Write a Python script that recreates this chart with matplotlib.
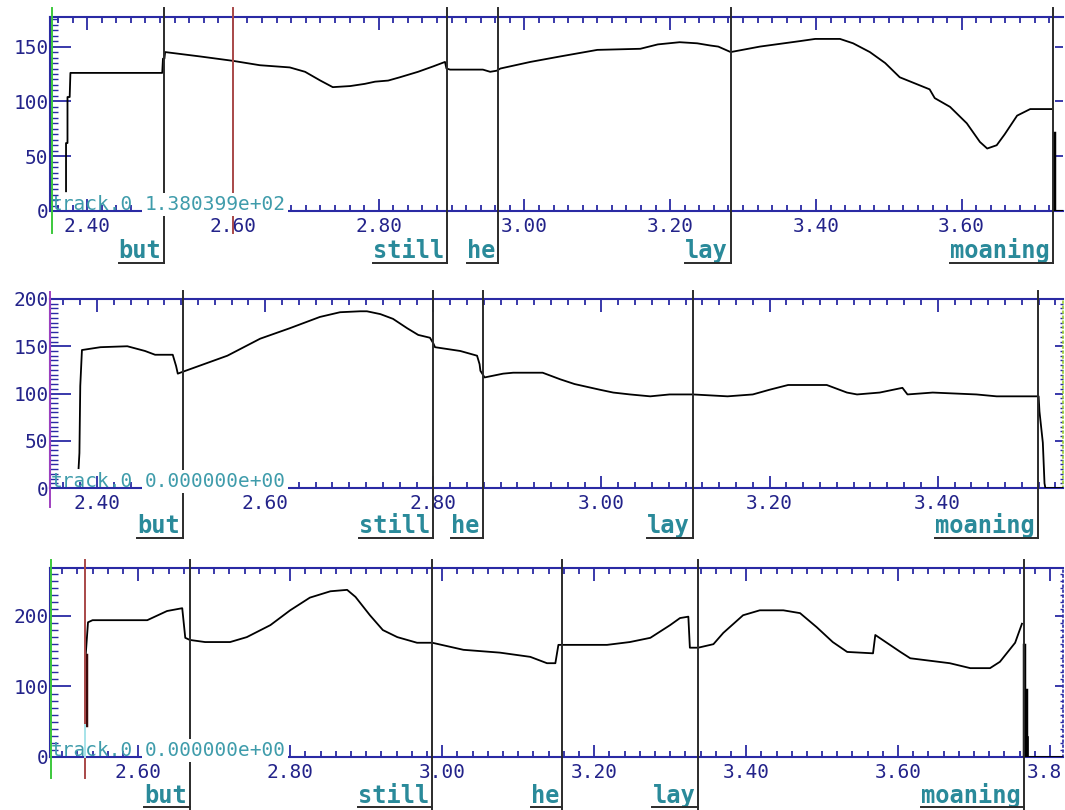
import matplotlib
matplotlib.use("Agg")
import matplotlib.pyplot as plt
import matplotlib.transforms as mtransforms
from matplotlib.lines import Line2D
from matplotlib.ticker import MultipleLocator, FuncFormatter, FormatStrFormatter

# ---- data ----
words = ["but", "still", "he", "lay", "moaning"]

# panel 1
p1_time = [2.371, 2.371, 2.373, 2.373, 2.376, 2.377, 2.503, 2.504, 2.506,
           2.507, 2.555, 2.600, 2.637, 2.678, 2.699, 2.720, 2.737, 2.761,
           2.781, 2.795, 2.813, 2.829, 2.854, 2.875, 2.891, 2.893, 2.898,
           2.943, 2.953, 2.962, 2.967, 3.008, 3.049, 3.100, 3.159, 3.183,
           3.213, 3.237, 3.255, 3.266, 3.283, 3.323, 3.378, 3.399, 3.433,
           3.451, 3.474, 3.495, 3.515, 3.556, 3.563, 3.584, 3.607, 3.625,
           3.635, 3.648, 3.659, 3.676, 3.694, 3.724]
p1_f0 = [18, 62, 62, 104, 104, 126, 126, 139, 139,
         145, 141, 137, 133, 131, 127, 119, 113, 114,
         116, 118, 119, 122, 127, 132, 136, 130, 129,
         129, 127, 128, 130, 136, 141, 147, 148, 152,
         154, 153, 151, 150, 145, 150, 155, 157, 157,
         153, 145, 135, 122, 111, 103, 95, 80, 63,
         57, 60, 70, 87, 93, 93]
p1_bounds = [2.506, 2.894, 2.964, 3.283, 3.725]
p1_spike_t = [3.726, 3.728]
p1_spike_v = [71, 23]
p1_cursor = 2.600
p1_start = 2.352
p1_readout = "1.380399e+02"

# panel 2
p2_time = [2.378, 2.379, 2.380, 2.382, 2.404, 2.436, 2.457, 2.469, 2.490,
           2.494, 2.496, 2.502, 2.555, 2.594, 2.629, 2.665, 2.689, 2.713,
           2.721, 2.737, 2.752, 2.769, 2.782, 2.796, 2.800, 2.802, 2.817,
           2.832, 2.852, 2.855, 2.856, 2.861, 2.883, 2.895, 2.930, 2.951,
           2.968, 2.998, 3.014, 3.034, 3.058, 3.081, 3.109, 3.150, 3.180,
           3.200, 3.222, 3.268, 3.292, 3.304, 3.331, 3.358, 3.364, 3.394,
           3.446, 3.470, 3.515, 3.520, 3.521, 3.525, 3.527, 3.528, 3.549]
p2_f0 = [21, 37, 108, 146, 149, 150, 145, 141, 141,
         129, 121, 123, 140, 158, 169, 181, 186, 187,
         187, 184, 179, 169, 162, 159, 153, 149, 147,
         145, 140, 131, 124, 117, 121, 122, 122, 115,
         110, 104, 101, 99, 97, 99, 99, 97, 99,
         104, 109, 109, 101, 99, 101, 106, 99, 101,
         99, 97, 97, 97, 81, 48, 5, 0, 0]
p2_bounds = [2.502, 2.800, 2.859, 3.109, 3.519]
p2_start = 2.3445
p2_readout = "0.000000e+00"

# panel 3
p3_time = [2.531, 2.531, 2.534, 2.540, 2.612, 2.622, 2.638, 2.658, 2.662,
           2.668, 2.688, 2.721, 2.743, 2.774, 2.800, 2.826, 2.853, 2.875,
           2.886, 2.905, 2.922, 2.941, 2.967, 2.987, 3.028, 3.076, 3.116,
           3.138, 3.149, 3.153, 3.217, 3.247, 3.274, 3.300, 3.313, 3.324,
           3.326, 3.337, 3.357, 3.370, 3.396, 3.418, 3.449, 3.471, 3.493,
           3.514, 3.533, 3.567, 3.570, 3.603, 3.616, 3.668, 3.695, 3.721,
           3.734, 3.754, 3.763]
p3_f0 = [45, 145, 191, 194, 194, 199, 207, 211, 169,
         166, 163, 163, 170, 187, 208, 226, 235, 237,
         227, 201, 180, 170, 162, 162, 152, 148, 142,
         133, 133, 159, 159, 163, 169, 187, 197, 199,
         155, 155, 160, 176, 201, 208, 208, 204, 184,
         163, 149, 147, 173, 149, 140, 133, 126, 126,
         135, 162, 189]
p3_bounds = [2.668, 2.987, 3.158, 3.337, 3.766]
p3_spike_t = [3.766, 3.768, 3.771]
p3_spike_v = [159, 95, 28]
p3_cursor = 2.530
p3_start = 2.4855
p3_readout = "0.000000e+00"
p3_cut_label = "3.8"

# ---- look ----
W, H = 1065, 810
AXIS = "#2a2aa4"
TICKTXT = "#23238a"
TEAL = "#2a8a9a"
TRACK = "#3f9cab"
MONO = "DejaVu Sans Mono"
TICKFS = 14
CHAR_PT = 0.602 * TICKFS

plt.rcParams["font.family"] = [MONO, "DejaVu Sans"]

fig = plt.figure(figsize=(W / 100, H / 100), dpi=100)


def fy(px):
    return 1 - px / H


def make_panel(top, bottom, xlim, ylim, ymaj, ymin, right_style, hide_x=None):
    ax = fig.add_axes([50 / W, fy(bottom), (1063 - 50) / W, (bottom - top) / H])
    ax.set_xlim(*xlim)
    ax.set_ylim(*ylim)
    ax.xaxis.set_major_locator(MultipleLocator(0.2))
    ax.xaxis.set_minor_locator(MultipleLocator(0.02))
    if hide_x is None:
        ax.xaxis.set_major_formatter(FormatStrFormatter("%.2f"))
    else:
        ax.xaxis.set_major_formatter(
            FuncFormatter(lambda v, p: "" if abs(v - hide_x) < 1e-6 else f"{v:.2f}"))
    ax.yaxis.set_major_locator(MultipleLocator(ymaj))
    ax.yaxis.set_minor_locator(MultipleLocator(ymin))
    ax.yaxis.set_major_formatter(FormatStrFormatter("%d"))
    ax.tick_params(axis="x", which="both", top=True, bottom=True, direction="in",
                   color=AXIS, labelcolor=TICKTXT, labelsize=TICKFS, pad=4)
    ax.tick_params(axis="x", which="major", length=9, width=1.3)
    ax.tick_params(axis="x", which="minor", length=4, width=1.3)
    ax.tick_params(axis="y", which="both", left=True, right=False, direction="in",
                   color=AXIS, labelcolor=TICKTXT, labelsize=TICKFS, pad=1)
    ax.tick_params(axis="y", which="major", length=15, width=1.3)
    ax.tick_params(axis="y", which="minor", length=6, width=1.0)
    for side in ["top", "bottom", "left"]:
        ax.spines[side].set_color(AXIS)
        ax.spines[side].set_linewidth(1.5)
    ax.spines["right"].set_visible(False)

    # short ticks along the right edge
    sec = ax.secondary_yaxis("right")
    sec.yaxis.set_major_locator(MultipleLocator(ymaj))
    sec.yaxis.set_minor_locator(MultipleLocator(ymin))
    sec.tick_params(which="major", direction="in", length=6, width=1.3,
                    color=AXIS, labelright=False)
    sec.tick_params(which="minor", direction="in", length=2 if right_style else 0,
                    width=1.0, color=AXIS)
    if right_style is None:
        sec.spines["right"].set_visible(False)
    else:
        sec.spines["right"].set_color(right_style)
        sec.spines["right"].set_linestyle((0, (1, 2)))
        sec.spines["right"].set_linewidth(1.2)
    return ax


def draw_marks(ax, bounds, span, baseline, underline):
    blend = mtransforms.blended_transform_factory(ax.transData, fig.transFigure)
    texts = []
    for t, w in zip(bounds, words):
        ax.add_line(Line2D([t, t], [fy(span[0]), fy(span[1])], transform=blend,
                           color="#2b2b2b", lw=1.4, clip_on=False, zorder=5))
        tr = mtransforms.offset_copy(blend, fig=fig, x=-3, y=0, units="dots")
        txt = ax.text(t, fy(baseline), w, transform=tr, ha="right", va="baseline",
                      color=TEAL, fontsize=17, fontweight="bold", clip_on=False)
        texts.append((t, txt, blend))
    return texts, underline


def readout(ax, value):
    tr0 = mtransforms.offset_copy(ax.transAxes, fig=fig, x=1, y=1, units="dots")
    ax.text(0.0, 0.0, "track.0", transform=tr0, color=TRACK,
            fontsize=TICKFS, ha="left", va="baseline", zorder=6)
    tr = mtransforms.offset_copy(ax.transAxes, fig=fig, x=8 * CHAR_PT + 0.7, y=0.7,
                                 units="points")
    ax.text(0.0, 0.0, value, transform=tr, color=TRACK, fontsize=TICKFS,
            ha="left", va="baseline", zorder=6,
            bbox=dict(facecolor="white", edgecolor="none", pad=1.5))


def vline(ax, t, top, bottom, color, lw=1.4):
    blend = mtransforms.blended_transform_factory(ax.transData, fig.transFigure)
    ax.add_line(Line2D([t, t], [fy(top), fy(bottom)], transform=blend,
                       color=color, lw=lw, clip_on=False, zorder=4))


# panel 1
ax1 = make_panel(17, 211, (2.349, 3.739), (0, 177), 50, 5, None)
vline(ax1, p1_start, 8, 233, "#3cc83c")
vline(ax1, p1_cursor, 8, 233, "#a84848")
ax1.plot(p1_time, p1_f0, color="black", lw=1.3, zorder=3)
for t, v in zip(p1_spike_t, p1_spike_v):
    ax1.plot([t, t], [v, 0], color="black", lw=2.5 if v > 50 else 1.2, zorder=3)
ax1.plot([p1_spike_t[0], 3.739], [0, 0], color="black", lw=1.5, zorder=3)
readout(ax1, p1_readout)
marks1 = draw_marks(ax1, p1_bounds, (8, 263), 258, 263)

# panel 2
ax2 = make_panel(299, 488, (2.344, 3.549), (0, 200), 50, 5, "#9acd32")
vline(ax2, p2_start, 292, 507, "#a040c0")
ax2.plot(p2_time, p2_f0, color="black", lw=1.3, zorder=3)
readout(ax2, p2_readout)
marks2 = draw_marks(ax2, p2_bounds, (291, 538), 533, 538)

# panel 3
ax3 = make_panel(568, 757, (2.484, 3.817), (0, 268), 100, 10, AXIS, hide_x=3.8)
vline(ax3, p3_start, 560, 778, "#3cc83c")
vline(ax3, p3_cursor, 560, 778, "#a84848")
vline(ax3, p3_cursor, 725, 757, "#a8e8ee")
ax3.plot(p3_time, p3_f0, color="black", lw=1.3, zorder=3)
ax3.plot([p3_time[0], p3_time[1]], [p3_f0[0], p3_f0[1]], color="#3a0a0a", lw=2.5, zorder=3)
for t, v in zip(p3_spike_t, p3_spike_v):
    ax3.plot([t, t], [v, 0], color="black", lw=2.5 if v > 50 else 1.2, zorder=3)
ax3.plot([p3_spike_t[-1], 3.817], [0, 0], color="black", lw=2.0, zorder=3)
readout(ax3, p3_readout)
marks3 = draw_marks(ax3, p3_bounds, (560, 810), 803, 807)

# the last bottom label is cut by the frame edge in the original: "3.8"
cut_tr = mtransforms.offset_copy(
    mtransforms.blended_transform_factory(ax3.transData, ax3.transAxes),
    fig=fig, x=-2 * CHAR_PT, y=-4, units="points")
ax3.text(3.8, 0.0, p3_cut_label, transform=cut_tr, ha="left", va="top",
         color=TICKTXT, fontsize=TICKFS, clip_on=False)

fig.canvas.draw()

# underline each word from its left edge to its boundary
inv = fig.transFigure.inverted()
for (items, uy) in [marks1, marks2, marks3]:
    for t, txt, blend in items:
        bb = txt.get_window_extent()
        x_end = blend.transform((t, 0))[0]
        x0 = inv.transform((bb.x0, 0))[0]
        x1 = inv.transform((x_end, 0))[0]
        fig.add_artist(Line2D([x0, x1], [fy(uy), fy(uy)], color="#2b2b2b", lw=1.4))

fig.savefig("out.png", dpi=100)
